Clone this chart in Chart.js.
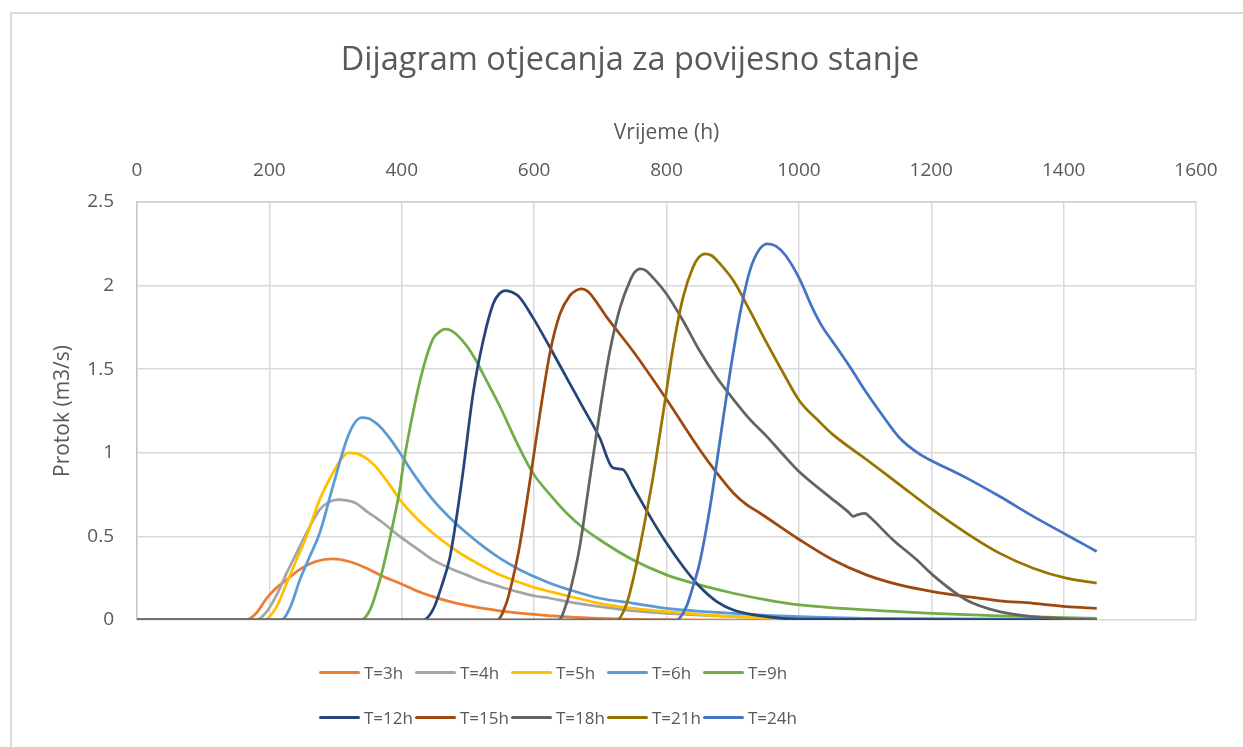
<!DOCTYPE html>
<html>
<head>
<meta charset="utf-8">
<script src="https://cdn.jsdelivr.net/npm/chart.js@4"></script>
<style>
  html, body { margin: 0; padding: 0; background: #fff; }
  body { width: 1243px; height: 747px; overflow: hidden; position: relative; font-family: "Open Sans", sans-serif; }
  #okvir { position: absolute; left: 10px; top: 12px; width: 1300px; height: 800px; border: 2px solid #d9d9d9; }
  #grafikon { position: absolute; left: 0; top: 0; }
  .stavka { position: absolute; height: 24px; display: flex; align-items: center; color: #595959; font-size: 17px; white-space: nowrap; }
  .stavka span { display: inline-block; width: 41px; height: 3px; border-radius: 2px; margin-right: 4px; }
</style>
</head>
<body>
<div id="okvir"></div>
<canvas id="grafikon" width="1243" height="747"></canvas>
<div id="legenda"></div>
<script>
// Oznake serija i boje
const oznake = ["T=3h", "T=4h", "T=5h", "T=6h", "T=9h", "T=12h", "T=15h", "T=18h", "T=21h", "T=24h"];
const boje = ["#ED7D31", "#A5A5A5", "#FFC000", "#5B9BD5", "#70AD47", "#264478", "#9E480E", "#636363", "#997300", "#4472C4"];

// Oznake na osima
const xOznake = [0, 200, 400, 600, 800, 1000, 1200, 1400, 1600];
const yOznake = [0, 0.5, 1, 1.5, 2, 2.5];

// Vrijeme (h) i protok (m3/s) za svaku seriju
const t3x = [0,165,180,196,210,226,245,270,296,320,347,372,397,422,447,473,498,523,548,574,600,625,650,700,750,800,900,1450];
const t3y = [0,0,0.04,0.13,0.19,0.24,0.30,0.35,0.365,0.35,0.31,0.26,0.22,0.175,0.14,0.11,0.087,0.069,0.055,0.043,0.033,0.025,0.018,0.009,0.004,0.002,0,0];

const t4x = [0,180,196,211,226,241,256,276,290,304,316,330,347,372,397,422,447,473,498,523,548,574,600,624,650,699,750,800,901,1000,1100,1450];
const t4y = [0,0,0.05,0.15,0.28,0.40,0.52,0.66,0.705,0.72,0.715,0.70,0.65,0.58,0.50,0.43,0.36,0.31,0.27,0.23,0.20,0.17,0.145,0.13,0.11,0.08,0.055,0.04,0.02,0.01,0.005,0];

const t5x = [0,192,211,226,241,256,276,296,308,319,333,347,360,372,385,397,422,447,473,498,523,548,574,600,624,650,699,750,800,901,950,1000,1450];
const t5y = [0,0,0.08,0.22,0.36,0.50,0.72,0.88,0.96,1.0,0.995,0.965,0.92,0.86,0.79,0.72,0.61,0.52,0.44,0.375,0.32,0.27,0.23,0.195,0.17,0.145,0.10,0.07,0.05,0.02,0.012,0.006,0];

const t6x = [0,218,232,246,261,276,296,317,329,340,350,357,365,372,385,397,422,447,473,498,523,548,574,600,624,650,699,750,800,901,1001,1100,1450];
const t6y = [0,0,0.08,0.24,0.38,0.52,0.80,1.08,1.18,1.21,1.205,1.19,1.165,1.135,1.07,1.0,0.85,0.72,0.61,0.52,0.44,0.37,0.31,0.26,0.22,0.185,0.13,0.10,0.07,0.04,0.02,0.01,0.004];

const t9x = [0,338,352,367,377,387,397,402,417,432,447,456,465,473,482,498,511,523,548,574,598,624,649,674,699,749,800,850,901,951,1001,1102,1202,1303,1450];
const t9y = [0,0,0.06,0.24,0.40,0.58,0.78,0.92,1.24,1.50,1.68,1.72,1.74,1.735,1.71,1.64,1.56,1.47,1.28,1.06,0.88,0.75,0.64,0.55,0.48,0.36,0.27,0.21,0.16,0.12,0.09,0.06,0.04,0.025,0.01];

const t12x = [0,432,447,460,473,491,508,523,538,547,557,567,578,598,624,649,674,699,719,734,749,775,800,825,850,876,901,951,1000,1450];
const t12y = [0,0,0.06,0.20,0.38,0.84,1.36,1.67,1.89,1.95,1.97,1.96,1.93,1.81,1.63,1.45,1.27,1.09,0.91,0.90,0.80,0.62,0.46,0.32,0.20,0.11,0.06,0.02,0.005,0];

const t15x = [0,544,558,568,578,594,609,624,639,654,663,672,681,689,710,749,800,850,876,901,921,941,1001,1051,1102,1152,1202,1253,1303,1354,1404,1450];
const t15y = [0,0,0.10,0.25,0.44,0.84,1.24,1.60,1.83,1.94,1.97,1.98,1.965,1.93,1.81,1.61,1.32,1.02,0.88,0.76,0.69,0.64,0.48,0.36,0.27,0.21,0.17,0.14,0.115,0.10,0.08,0.07];

const t18x = [0,637,649,659,669,684,699,714,730,745,752,760,769,779,800,825,850,876,901,926,951,976,1001,1042,1075,1082,1089,1100,1106,1142,1178,1202,1253,1303,1354,1450];
const t18y = [0,0,0.10,0.25,0.44,0.84,1.24,1.60,1.87,2.03,2.08,2.10,2.09,2.05,1.95,1.79,1.61,1.45,1.32,1.20,1.10,0.99,0.885,0.75,0.645,0.62,0.63,0.638,0.62,0.48,0.36,0.27,0.12,0.05,0.02,0];

const t21x = [0,725,740,750,760,779,795,810,825,840,849,858,868,881,901,926,951,976,1001,1030,1051,1102,1152,1202,1253,1303,1354,1404,1450];
const t21y = [0,0,0.10,0.25,0.44,0.84,1.24,1.63,1.93,2.11,2.17,2.19,2.18,2.13,2.03,1.85,1.66,1.48,1.31,1.19,1.11,0.96,0.81,0.66,0.52,0.40,0.31,0.25,0.22];

const t24x = [0,815,830,840,850,866,881,896,911,926,941,953,966,980,1001,1020,1036,1051,1077,1102,1127,1152,1183,1202,1253,1303,1354,1404,1450];
const t24y = [0,0,0.08,0.20,0.34,0.68,1.08,1.48,1.83,2.09,2.22,2.25,2.235,2.18,2.04,1.87,1.75,1.665,1.515,1.36,1.22,1.09,0.99,0.95,0.85,0.74,0.62,0.51,0.41];

const serijeX = [t3x, t4x, t5x, t6x, t9x, t12x, t15x, t18x, t21x, t24x];
const serijeY = [t3y, t4y, t5y, t6y, t9y, t12y, t15y, t18y, t21y, t24y];

const siva = "#595959";
const font = "'Open Sans', sans-serif";

const datasets = oznake.map((oznaka, i) => ({
    label: oznaka,
    data: serijeX[i].map((x, j) => ({ x: x, y: serijeY[i][j] })),
    borderColor: boje[i],
    backgroundColor: boje[i],
    borderWidth: 2.75,
    pointRadius: 0,
    cubicInterpolationMode: "monotone",
    order: oznake.length - i
}));

// Naslov u Excelu stoji malo desnije od sredine
const pomakNaslova = {
    id: "pomakNaslova",
    afterLayout(chart) {
        if (chart.titleBlock) chart.titleBlock.left += 53;
    }
};

new Chart(document.getElementById("grafikon"), {
    type: "line",
    data: { datasets },
    plugins: [pomakNaslova],
    options: {
        responsive: false,
        animation: false,
        devicePixelRatio: 1,
        layout: { padding: { left: 11, right: 47, top: 0, bottom: 127 } },
        plugins: {
            legend: { display: false },
            tooltip: { enabled: false },
            title: {
                display: true,
                text: "Dijagram otjecanja za povijesno stanje",
                color: siva,
                font: { family: font, size: 32.5, weight: "normal", lineHeight: 1.2 },
                padding: { top: 41, bottom: 6 }
            }
        },
        scales: {
            x: {
                type: "linear",
                position: "top",
                min: 0,
                max: 1600,
                afterBuildTicks: (s) => { s.ticks = xOznake.map(v => ({ value: v })); },
                afterFit: (s) => { s.height = 116; },
                ticks: { color: siva, padding: 20, maxRotation: 0, font: { family: font, size: 19 }, callback: v => String(v) },
                grid: { color: "#d9d9d9", lineWidth: 1.5, drawTicks: false },
                border: { color: "#d0d0d0", width: 1.5 },
                title: {
                    display: true,
                    text: "Vrijeme (h)",
                    color: siva,
                    font: { family: font, size: 21, lineHeight: 1.2 },
                    padding: { top: 34 }
                }
            },
            y: {
                type: "linear",
                min: 0,
                max: 2.5,
                afterBuildTicks: (s) => { s.ticks = yOznake.map(v => ({ value: v })); },
                afterFit: (s) => { s.width = 126; },
                ticks: { color: siva, padding: 23, font: { family: font, size: 19 }, callback: v => String(v) },
                grid: { color: "#d9d9d9", lineWidth: 1.5, drawTicks: false },
                border: { color: "#c8c8c8", width: 1.5 },
                title: {
                    display: true,
                    text: "Protok (m3/s)",
                    color: siva,
                    font: { family: font, size: 21, lineHeight: 1.2 },
                    padding: { top: 39 }
                }
            }
        }
    }
});

// Legenda (dva reda po pet stavki, kao u Excelu)
const legenda = document.getElementById("legenda");
oznake.forEach((oznaka, i) => {
    const red = Math.floor(i / 5), stupac = i % 5;
    const el = document.createElement("div");
    el.className = "stavka";
    el.style.left = (319 + stupac * 96) + "px";
    el.style.top = (660 + red * 45) + "px";
    el.innerHTML = `<span style="background:${boje[i]}"></span>${oznaka}`;
    legenda.appendChild(el);
});
</script>
</body>
</html>
